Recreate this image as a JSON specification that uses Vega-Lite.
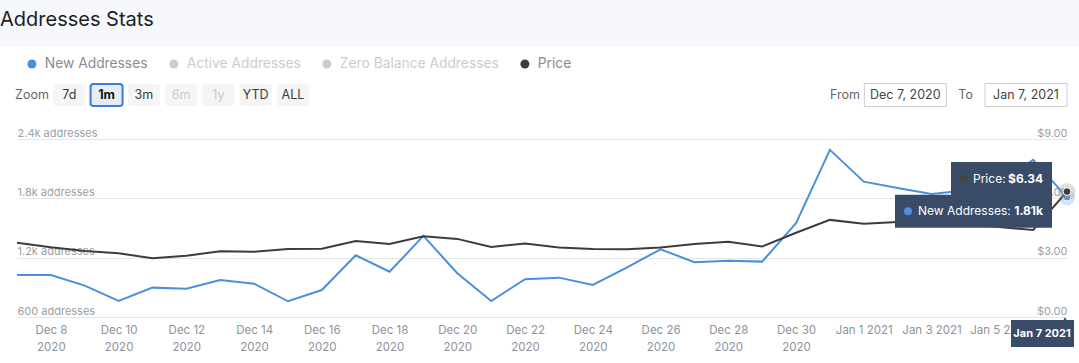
{
  "$schema": "https://vega.github.io/schema/vega-lite/v6.json",
  "width": 1050,
  "height": 178,
  "autosize": {"type": "none"},
  "padding": {"left": 17, "top": 139, "right": 12, "bottom": 46},
  "background": "white",
  "config": {
    "view": {"stroke": null},
    "font": "Inter",
    "axis": {"labelFont": "Inter", "titleFont": "Inter"},
    "legend": {"labelFont": "Inter"}
  },
  "layer": [
    {
      "data": {"values": [{"group": "header", "title": "Addresses Stats"}]},
      "encoding": {
        "x": {"field": "group", "type": "nominal", "scale": {"domain": ["header"], "range": [-17, 1062], "paddingInner": 0, "paddingOuter": 0}, "axis": null},
        "y": {"field": "group", "type": "nominal", "scale": {"domain": ["header"], "range": [-139, -92], "paddingInner": 0, "paddingOuter": 0}, "axis": null}
      },
      "layer": [
        {"mark": {"type": "rect", "color": "#f7f8fb", "clip": false}},
        {
          "mark": {"type": "text", "align": "left", "baseline": "alphabetic", "font": "Inter", "fontSize": 20, "color": "#1b1f24", "dx": 0, "dy": 2, "clip": false},
          "encoding": {
            "text": {"field": "title"},
            "x": {"field": "group", "type": "nominal", "bandPosition": 0, "scale": {"domain": ["header"], "range": [-17, 1062], "paddingInner": 0, "paddingOuter": 0}, "axis": null}
          }
        }
      ]
    },
    {
      "data": {
        "values": [
          {"group": "controls", "item": "Zoom", "kind": "label"},
          {"group": "controls", "item": "7d", "kind": "button"},
          {"group": "controls", "item": "1m", "kind": "selected"},
          {"group": "controls", "item": "3m", "kind": "button"},
          {"group": "controls", "item": "6m", "kind": "disabled"},
          {"group": "controls", "item": "1y", "kind": "disabled"},
          {"group": "controls", "item": "YTD", "kind": "button"},
          {"group": "controls", "item": "ALL", "kind": "button"}
        ]
      },
      "encoding": {
        "x": {"field": "item", "type": "nominal", "scale": {"domain": ["Zoom", "7d", "1m", "3m", "6m", "1y", "YTD", "ALL"], "range": [-1, 292], "paddingInner": 0.14, "paddingOuter": 0}, "axis": null},
        "y": {"field": "group", "type": "nominal", "scale": {"domain": ["controls"], "range": [-55, -33], "paddingInner": 0, "paddingOuter": 0}, "axis": null}
      },
      "layer": [
        {
          "transform": [{"filter": "datum.kind !== 'label'"}],
          "mark": {"type": "rect", "cornerRadius": 3, "stroke": "#3a7be0", "clip": false},
          "encoding": {
            "fill": {"condition": {"test": "datum.kind === 'selected'", "value": "#e7edf8"}, "value": "#f5f5f5"},
            "strokeWidth": {"condition": {"test": "datum.kind === 'selected'", "value": 2}, "value": 0}
          }
        },
        {
          "transform": [{"filter": "datum.kind !== 'selected'"}],
          "mark": {"type": "text", "font": "Inter", "fontSize": 12.5, "baseline": "middle", "clip": false},
          "encoding": {
            "text": {"field": "item"},
            "fill": {"condition": [{"test": "datum.kind === 'disabled'", "value": "#cccccc"}, {"test": "datum.kind === 'label'", "value": "#666666"}], "value": "#3a3a3a"}
          }
        },
        {
          "transform": [{"filter": "datum.kind === 'selected'"}],
          "mark": {"type": "text", "font": "Inter", "fontSize": 12.5, "fontWeight": "bold", "baseline": "middle", "color": "#111111", "clip": false},
          "encoding": {"text": {"field": "item"}}
        }
      ]
    },
    {
      "data": {
        "values": [
          {"group": "range", "item": "From", "kind": "label"},
          {"group": "range", "item": "Dec 7, 2020", "kind": "box"},
          {"group": "range", "item": "To", "kind": "label"},
          {"group": "range", "item": "Jan 7, 2021", "kind": "box"}
        ]
      },
      "encoding": {
        "x": {"field": "item", "type": "nominal", "scale": {"type": "point", "domain": ["From", "Dec 7, 2020", "To", "Jan 7, 2021"], "range": [828, 1009], "padding": 0}, "axis": null},
        "y": {"field": "group", "type": "nominal", "scale": {"domain": ["range"], "range": [-56, -32], "paddingInner": 0, "paddingOuter": 0}, "axis": null}
      },
      "layer": [
        {
          "transform": [{"filter": "datum.kind === 'box'"}],
          "mark": {"type": "point", "shape": "M-1,-0.28H1V0.28H-1Z", "size": 6724, "filled": true, "fill": "white", "stroke": "#cccccc", "strokeWidth": 1, "opacity": 1, "clip": false}
        },
        {
          "mark": {"type": "text", "font": "Inter", "fontSize": 12.5, "baseline": "middle", "clip": false},
          "encoding": {
            "text": {"field": "item"},
            "fill": {"condition": {"test": "datum.kind === 'label'", "value": "#666666"}, "value": "#444444"}
          }
        }
      ]
    },
    {
      "data": {
        "values": [
          {"date": "2020-12-07", "new_addresses": 1025, "price": 3.76},
          {"date": "2020-12-08", "new_addresses": 1025, "price": 3.53},
          {"date": "2020-12-09", "new_addresses": 917, "price": 3.34},
          {"date": "2020-12-10", "new_addresses": 762, "price": 3.22},
          {"date": "2020-12-11", "new_addresses": 897, "price": 2.97},
          {"date": "2020-12-12", "new_addresses": 886, "price": 3.10},
          {"date": "2020-12-13", "new_addresses": 974, "price": 3.32},
          {"date": "2020-12-14", "new_addresses": 937, "price": 3.30},
          {"date": "2020-12-15", "new_addresses": 759, "price": 3.44},
          {"date": "2020-12-16", "new_addresses": 873, "price": 3.45},
          {"date": "2020-12-17", "new_addresses": 1224, "price": 3.84},
          {"date": "2020-12-18", "new_addresses": 1058, "price": 3.69},
          {"date": "2020-12-19", "new_addresses": 1420, "price": 4.08},
          {"date": "2020-12-20", "new_addresses": 1042, "price": 3.95},
          {"date": "2020-12-21", "new_addresses": 762, "price": 3.54},
          {"date": "2020-12-22", "new_addresses": 982, "price": 3.71},
          {"date": "2020-12-23", "new_addresses": 998, "price": 3.51},
          {"date": "2020-12-24", "new_addresses": 924, "price": 3.44},
          {"date": "2020-12-25", "new_addresses": 1099, "price": 3.42},
          {"date": "2020-12-26", "new_addresses": 1285, "price": 3.51},
          {"date": "2020-12-27", "new_addresses": 1154, "price": 3.69},
          {"date": "2020-12-28", "new_addresses": 1170, "price": 3.81},
          {"date": "2020-12-29", "new_addresses": 1160, "price": 3.56},
          {"date": "2020-12-30", "new_addresses": 1548, "price": 4.26},
          {"date": "2020-12-31", "new_addresses": 2290, "price": 4.91},
          {"date": "2021-01-01", "new_addresses": 1969, "price": 4.72},
          {"date": "2021-01-02", "new_addresses": 1905, "price": 4.80},
          {"date": "2021-01-03", "new_addresses": 1845, "price": 4.85},
          {"date": "2021-01-04", "new_addresses": 1880, "price": 4.70},
          {"date": "2021-01-05", "new_addresses": 1955, "price": 4.55},
          {"date": "2021-01-06", "new_addresses": 2189, "price": 4.40},
          {"date": "2021-01-07", "new_addresses": 1810, "price": 6.34}
        ]
      },
      "encoding": {
        "x": {
          "field": "date",
          "type": "temporal",
          "scale": {
            "type": "utc",
            "domain": [
              {"year": 2020, "month": 12, "date": 7, "utc": true},
              {"year": 2021, "month": 1, "date": 7, "utc": true}
            ]
          },
          "axis": {
            "orient": "bottom",
            "title": null,
            "values": [
              {"year": 2020, "month": 12, "date": 8, "utc": true},
              {"year": 2020, "month": 12, "date": 10, "utc": true},
              {"year": 2020, "month": 12, "date": 12, "utc": true},
              {"year": 2020, "month": 12, "date": 14, "utc": true},
              {"year": 2020, "month": 12, "date": 16, "utc": true},
              {"year": 2020, "month": 12, "date": 18, "utc": true},
              {"year": 2020, "month": 12, "date": 20, "utc": true},
              {"year": 2020, "month": 12, "date": 22, "utc": true},
              {"year": 2020, "month": 12, "date": 24, "utc": true},
              {"year": 2020, "month": 12, "date": 26, "utc": true},
              {"year": 2020, "month": 12, "date": 28, "utc": true},
              {"year": 2020, "month": 12, "date": 30, "utc": true},
              {"year": 2021, "month": 1, "date": 1, "utc": true},
              {"year": 2021, "month": 1, "date": 3, "utc": true},
              {"year": 2021, "month": 1, "date": 5, "utc": true}
            ],
            "labelExpr": "utcmonth(datum.value) === 0 ? utcFormat(datum.value, '%b %-d %Y') : [utcFormat(datum.value, '%b %-d'), utcFormat(datum.value, '%Y')]",
            "grid": false,
            "domain": false,
            "ticks": false,
            "tickSize": 0,
            "labelPadding": 7,
            "labelBaseline": "top",
            "labelAlign": "center",
            "labelFlush": false,
            "labelOverlap": false,
            "labelColor": "#8d939c",
            "labelFontSize": 11.5,
            "labelLineHeight": 17
          }
        }
      },
      "layer": [
        {
          "encoding": {
            "y": {
              "field": "new_addresses",
              "type": "quantitative",
              "scale": {"domain": [600, 2400], "nice": false, "zero": false},
              "axis": {
                "orient": "left",
                "title": null,
                "values": [600, 1200, 1800, 2400],
                "grid": true,
                "gridColor": "#e6e6e6",
                "gridWidth": 1,
                "domain": false,
                "ticks": false,
                "tickSize": 0,
                "labelPadding": 0,
                "labelAlign": "left",
                "labelBaseline": "alphabetic",
                "labelOffset": -3,
                "labelColor": "#9aa0a6",
                "labelFontSize": 11,
                "labelExpr": "datum.value >= 1000 ? format(datum.value / 1000, '.1f') + 'k addresses' : datum.value + ' addresses'"
              }
            }
          },
          "layer": [
            {
              "mark": {"type": "line", "strokeWidth": 2, "clip": false},
              "encoding": {
                "color": {
                  "datum": "New Addresses",
                  "type": "nominal",
                  "scale": {
                    "domain": ["New Addresses", "Active Addresses", "Zero Balance Addresses", "Price"],
                    "range": ["#4a8fe0", "#cccccc", "#cccccc", "#3c3c3c"]
                  },
                  "legend": {
                    "orient": "none",
                    "legendX": 8,
                    "legendY": -82,
                    "direction": "horizontal",
                    "title": null,
                    "symbolType": "circle",
                    "symbolSize": 81,
                    "symbolStrokeWidth": 0,
                    "symbolOpacity": 1,
                    "labelFontSize": 13.8,
                    "labelOffset": 6,
                    "labelLimit": 400,
                    "columnPadding": 19,
                    "padding": 0,
                    "labelColor": "#858c95",
                    "encode": {
                      "symbols": {"update": {"fill": {"scale": "color", "field": "value"}, "strokeWidth": {"value": 0}}},
                      "labels": {"update": {"fill": {"signal": "datum.label === 'Active Addresses' || datum.label === 'Zero Balance Addresses' ? '#cccccc' : '#858c95'"}}}
                    }
                  }
                }
              }
            },
            {
              "transform": [{"filter": "utcmonth(datum.date) === 0 && utcdate(datum.date) === 7"}],
              "mark": {"type": "point", "filled": true, "size": 260, "opacity": 0.25, "color": "#4a8fe0", "clip": false}
            },
            {
              "transform": [{"filter": "utcmonth(datum.date) === 0 && utcdate(datum.date) === 7"}],
              "mark": {"type": "point", "filled": true, "size": 55, "opacity": 1, "color": "#4a8fe0", "stroke": "white", "strokeWidth": 1, "clip": false}
            }
          ]
        },
        {
          "encoding": {
            "y": {
              "field": "price",
              "type": "quantitative",
              "scale": {"domain": [0, 9], "nice": false},
              "axis": {
                "orient": "right",
                "title": null,
                "values": [0, 3, 6, 9],
                "grid": false,
                "domain": false,
                "ticks": false,
                "tickSize": 0,
                "labelPadding": 0,
                "labelAlign": "right",
                "labelBaseline": "alphabetic",
                "labelOffset": -3,
                "labelColor": "#9aa0a6",
                "labelFontSize": 11,
                "format": "$.2f"
              }
            }
          },
          "layer": [
            {
              "mark": {"type": "line", "strokeWidth": 2, "clip": false},
              "encoding": {"color": {"datum": "Price", "type": "nominal"}}
            },
            {
              "transform": [{"filter": "utcmonth(datum.date) === 0 && utcdate(datum.date) === 7"}],
              "mark": {"type": "point", "filled": true, "size": 300, "opacity": 0.3, "color": "#9a9a9a", "clip": false}
            },
            {
              "transform": [{"filter": "utcmonth(datum.date) === 0 && utcdate(datum.date) === 7"}],
              "mark": {"type": "point", "filled": true, "size": 60, "opacity": 1, "color": "#3c3c3c", "stroke": "white", "strokeWidth": 1, "clip": false}
            }
          ]
        },
        {
          "transform": [{"filter": "utcmonth(datum.date) === 0 && utcdate(datum.date) === 7"}],
          "encoding": {
            "y": {"field": "price", "type": "quantitative", "scale": {"domain": [0, 9], "nice": false}, "axis": null}
          },
          "layer": [
            {"mark": {"type": "point", "shape": "M-1,-0.337H1V0.337H-1Z", "size": 10201, "filled": true, "color": "#394b67", "opacity": 1, "xOffset": -65.5, "yOffset": -12.7, "clip": false}},
            {"mark": {"type": "point", "shape": "circle", "size": 64, "filled": true, "color": "#454545", "opacity": 1, "xOffset": -103, "yOffset": -12.7, "clip": false}},
            {"mark": {"type": "text", "text": "Price:", "align": "left", "baseline": "middle", "font": "Inter", "fontSize": 12, "color": "white", "xOffset": -94, "yOffset": -12.7, "clip": false}},
            {
              "mark": {"type": "text", "align": "right", "baseline": "middle", "font": "Inter", "fontSize": 12, "fontWeight": "bold", "color": "white", "xOffset": -24, "yOffset": -12.7, "clip": false},
              "encoding": {"text": {"field": "price", "type": "quantitative", "format": "$.2f"}}
            }
          ]
        },
        {
          "transform": [{"filter": "utcmonth(datum.date) === 0 && utcdate(datum.date) === 7"}],
          "encoding": {
            "y": {"field": "new_addresses", "type": "quantitative", "scale": {"domain": [600, 2400], "nice": false, "zero": false}, "axis": null}
          },
          "layer": [
            {"mark": {"type": "point", "shape": "M-1,-0.21H1V0.21H-1Z", "size": 24649, "filled": true, "color": "#394b67", "opacity": 1, "xOffset": -93.5, "yOffset": 14, "clip": false}},
            {"mark": {"type": "point", "shape": "circle", "size": 64, "filled": true, "color": "#4a8fe0", "opacity": 1, "xOffset": -159, "yOffset": 14, "clip": false}},
            {"mark": {"type": "text", "text": "New Addresses:", "align": "left", "baseline": "middle", "font": "Inter", "fontSize": 12, "color": "white", "xOffset": -149, "yOffset": 14, "clip": false}},
            {
              "mark": {"type": "text", "align": "right", "baseline": "middle", "font": "Inter", "fontSize": 12, "fontWeight": "bold", "color": "white", "xOffset": -24, "yOffset": 14, "clip": false},
              "encoding": {"text": {"field": "new_addresses", "type": "quantitative", "format": ".3s"}}
            }
          ]
        },
        {
          "transform": [{"filter": "utcmonth(datum.date) === 0 && utcdate(datum.date) === 7"}],
          "encoding": {
            "y": {"datum": 0, "type": "quantitative", "scale": {"domain": [0, 9], "nice": false}, "axis": null}
          },
          "layer": [
            {"mark": {"type": "point", "shape": "triangle-up", "size": 40, "filled": true, "color": "#394b67", "opacity": 1, "xOffset": -2, "yOffset": 3, "clip": false}},
            {"mark": {"type": "point", "shape": "M-1,-0.43H1V0.43H-1Z", "size": 3969, "filled": true, "color": "#394b67", "opacity": 1, "xOffset": -24.5, "yOffset": 16.5, "clip": false}},
            {
              "mark": {"type": "text", "align": "center", "baseline": "middle", "font": "Inter", "fontSize": 11, "fontWeight": "bold", "color": "white", "xOffset": -25, "yOffset": 17, "clip": false},
              "encoding": {"text": {"field": "date", "type": "temporal", "timeUnit": "utcyearmonthdate", "format": "%b %-d %Y"}}
            }
          ]
        }
      ],
      "resolve": {"scale": {"y": "independent"}}
    }
  ],
  "resolve": {"scale": {"x": "independent", "y": "independent"}}
}
